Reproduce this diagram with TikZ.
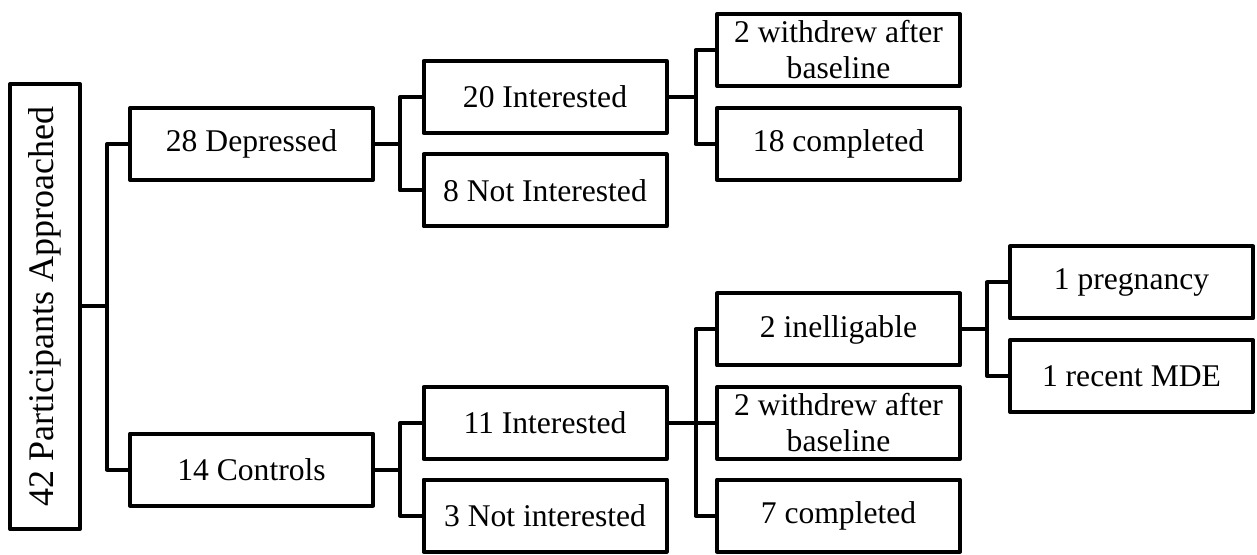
\documentclass[tikz,border=0pt]{standalone}
\usepackage{fontspec}
\setmainfont{Liberation Serif}
\begin{document}
\begin{tikzpicture}[
    x = 0.5pt,
    y = -0.5pt,
    box/.style = {draw, line width=2pt, line join=round, minimum width=121.5pt,
    minimum height=36pt, inner sep=0pt, align=center,
    font=\fontsize{15.8}{18}\selectfont},
    rootbox/.style = {draw, line width=2pt, line join=round, minimum width=35pt,
    minimum height=222.5pt, inner sep=0pt, font=\fontsize{18}{21}\selectfont},
    link/.style = {line width=2pt, line join=round},
]

\useasboundingbox (0,0) rectangle (1257,555);

\node[rootbox] (root) at (45,306.5){\rotatebox{90}{42 Participants Approached}};

\node[box] (dep) at (251.5,144){28 Depressed};
\node[box] (con) at (251.5,469.5){14 Controls};

\node[box] (int20) at (545,97){20 Interested};
\node[box] (not8) at (545,190.5){8 Not Interested};
\node[box] (int11) at (545,423){11 Interested};
\node[box] (not3) at (545,515.5){3 Not interested};

\node[box] (wd_dep) at (838.5,50){2 withdrew after\\baseline};
\node[box] (comp18) at (838.5,144){18 completed};
\node[box] (inel) at (838.5,329.5){2 inelligable};
\node[box] (wd_con) at (838.5,423){2 withdrew after\\baseline};
\node[box] (comp7) at (838.5,515.5){7 completed};

\node[box] (preg) at (1131.5,282.5){1 pregnancy};
\node[box] (mde) at (1131.5,376){1 recent MDE};

\draw [link] (root.east) -- ++(25,0) |- (dep.west);
\draw [link] (root.east) -- ++(25,0) |- (con.west);
\draw [link] (dep.east) -- ++(25,0) |- (int20.west);
\draw [link] (dep.east) -- ++(25,0) |- (not8.west);
\draw [link] (con.east) -- ++(25,0) |- (int11.west);
\draw [link] (con.east) -- ++(25,0) |- (not3.west);
\draw [link] (int20.east) -- ++(27,0) |- (wd_dep.west);
\draw [link] (int20.east) -- ++(27,0) |- (comp18.west);
\draw [link] (int11.east) -- ++(27,0) |- (inel.west);
\draw [link] (int11.east) -- ++(27,0) |- (wd_con.west);
\draw [link] (int11.east) -- ++(27,0) |- (comp7.west);
\draw [link] (inel.east) -- ++(25,0) |- (preg.west);
\draw [link] (inel.east) -- ++(25,0) |- (mde.west);

\end{tikzpicture}
\end{document}
